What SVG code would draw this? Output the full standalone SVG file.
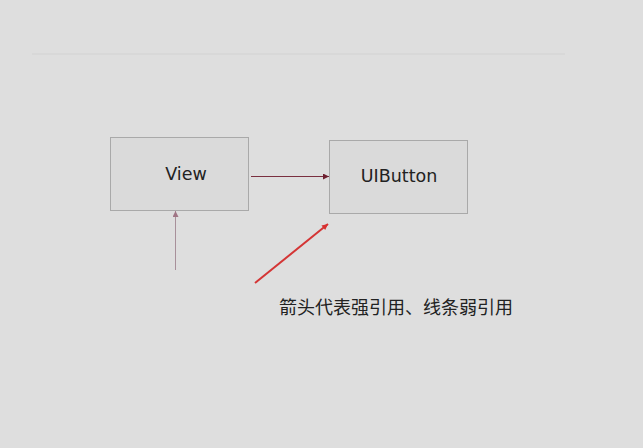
<svg xmlns="http://www.w3.org/2000/svg" width="643" height="448" viewBox="0 0 643 448">
<style>
.box{fill:#dadada;stroke:#a9a9a9;stroke-width:1}
.lbl{font-family:"DejaVu Sans","Liberation Sans",sans-serif;font-size:17.5px;fill:#222;text-anchor:middle}
.note{font-family:"Noto Sans CJK SC","Liberation Sans",sans-serif;font-size:18px;fill:#222}
</style>
<defs>
<marker id="ah1" viewBox="0 0 10 10" refX="10" refY="5" markerWidth="9" markerHeight="6" orient="auto" markerUnits="userSpaceOnUse"><path d="M0,0L10,5L0,10z" fill="#6e2030"/></marker>
<marker id="ah2" viewBox="0 0 10 10" refX="10" refY="5" markerWidth="8" markerHeight="6" orient="auto" markerUnits="userSpaceOnUse"><path d="M0,0L10,5L0,10z" fill="#a07585"/></marker>
<marker id="ah3" viewBox="0 0 10 10" refX="10" refY="5" markerWidth="8" markerHeight="6" orient="auto" markerUnits="userSpaceOnUse"><path d="M0,0L10,5L0,10z" fill="#d83030"/></marker>
</defs>
<rect width="643" height="448" fill="#dedede"/>
<line x1="32" y1="54" x2="565" y2="54" stroke="#d6d6d6" stroke-width="1.5"/>
<g id="node-view">
<rect class="box" x="110.5" y="137.5" width="138" height="73"/>
<text class="lbl" x="186" y="180">View</text>
</g>
<g id="node-uibutton">
<rect class="box" x="329.5" y="140.5" width="138" height="73"/>
<text class="lbl" x="399" y="182">UIButton</text>
</g>
<g id="connectors">
<line x1="251" y1="176.5" x2="329" y2="176.5" stroke="#7a3040" stroke-width="1" marker-end="url(#ah1)"/>
<line x1="175.5" y1="270" x2="175.5" y2="211" stroke="#a8909a" stroke-width="1" marker-end="url(#ah2)"/>
<line x1="255" y1="283" x2="328" y2="224" stroke="#d43535" stroke-width="2" marker-end="url(#ah3)"/>
</g>
<text class="note" x="279" y="314">箭头代表强引用、线条弱引用</text>
</svg>
